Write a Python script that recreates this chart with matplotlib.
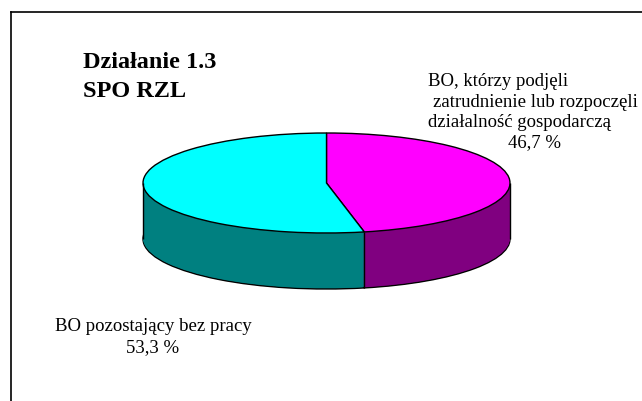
import numpy as np
import matplotlib
matplotlib.use("Agg")
import matplotlib.pyplot as plt
from matplotlib.lines import Line2D

# data
labels = ["BO, którzy podjęli zatrudnienie lub rozpoczęli działalność gospodarczą",
          "BO pozostający bez pracy"]
shares = [46.7, 53.3]
top_colors = ["#FF00FF", "#00FFFF"]
side_colors = ["#800080", "#008080"]

W, H = 642, 401
fig = plt.figure(figsize=(W / 100, H / 100), dpi=100)
plt.rcParams["font.family"] = ["Liberation Serif", "DejaVu Serif"]

ax = fig.add_axes([0, 0, 1, 1])

# pie geometry in pixels (ellipse radii, depth)
cx, cy = 326.5, 218.0
rx, ry = 183.5, 50.0
depth = 56.0 / ry

# side wall: stacked pies, bottom to top
steps = np.linspace(depth, 0.02, 60)
for i, d in enumerate(steps):
    ax.pie(shares, colors=side_colors, startangle=90, counterclock=False,
           center=(0, -d),
           wedgeprops=dict(edgecolor="black" if i == 0 else "none",
                           linewidth=1.0 if i == 0 else 0))

# top face
ax.pie(shares, colors=top_colors, startangle=90, counterclock=False,
       center=(0, 0), wedgeprops=dict(edgecolor="black", linewidth=1.0))

# vertical edges of the wall
ax.vlines([-1, 1], -depth, 0, colors="black", linewidth=1.0)
theta = np.deg2rad(90 - shares[0] / 100 * 360)
if np.sin(theta) < 0:
    ax.vlines(np.cos(theta), np.sin(theta) - depth, np.sin(theta),
              colors="black", linewidth=1.0)

ax.set_aspect("auto")
ax.set_xlim(-cx / rx, (W - cx) / rx)
ax.set_ylim(-cy / ry, (H - cy) / ry)
ax.axis("off")

def fx(px):
    return px / W

def fy(py):
    return 1 - py / H

# frame
fig.add_artist(Line2D([fx(11.5), fx(11.5)], [fy(11.5), 0], color="black", lw=1.2))
fig.add_artist(Line2D([fx(11.5), 1], [fy(11.5), fy(11.5)], color="black", lw=1.2))

# title
fig.text(fx(83), fy(68), "Działanie 1.3", fontsize=17.5, fontweight="bold",
         va="baseline", ha="left")
fig.text(fx(83), fy(97), "SPO RZL", fontsize=17.5, fontweight="bold",
         va="baseline", ha="left")

# right label
fs = 13.5
fig.text(fx(428), fy(86), "BO, którzy podjęli", fontsize=fs, va="baseline")
fig.text(fx(433), fy(107), "zatrudnienie lub rozpoczęli", fontsize=fs, va="baseline")
fig.text(fx(428), fy(127), "działalność gospodarczą", fontsize=fs, va="baseline")
fig.text(fx(535), fy(147), f"{shares[0]:.1f} %".replace(".", ","), fontsize=fs,
         va="baseline", ha="center")

# left label
fig.text(fx(153), fy(331), "BO pozostający bez pracy", fontsize=fs,
         va="baseline", ha="center")
fig.text(fx(153), fy(352), f"{shares[1]:.1f} %".replace(".", ","), fontsize=fs,
         va="baseline", ha="center")

fig.savefig("out.png", dpi=100)
